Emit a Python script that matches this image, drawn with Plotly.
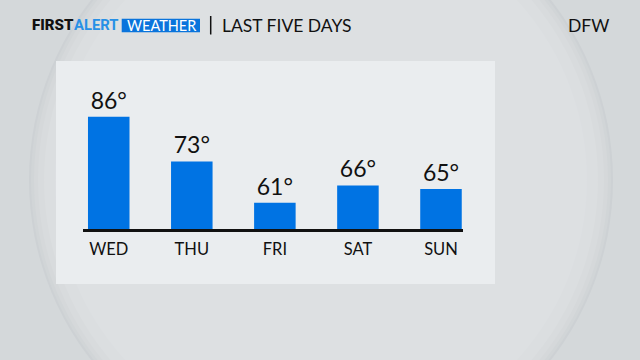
import plotly.graph_objects as go

# ---- data ----
days = ["WED", "THU", "FRI", "SAT", "SUN"]
highs = [86, 73, 61, 66, 65]

W, H = 640, 360


def px(x):
    return x / W


def py(y):
    return (H - y) / H


BLUE = "#0073E3"
TXT = "#111111"
FONT = "Lato"

fig = go.Figure()
fig.add_trace(go.Bar(
    x=days, y=highs, width=0.5,
    marker=dict(color=BLUE, line=dict(width=0)),
    texttemplate="%{y}°", textposition="outside", cliponaxis=False,
    textfont=dict(family=FONT, size=23, color=TXT),
    hoverinfo="skip",
))

shapes = []
# big sphere with a soft darker rim
for r, col in [(292, "#cdd1d4"), (290, "#d1d5d7"), (287, "#d5d8da"),
               (283, "#d8dbdd"), (277, "#dbdee0"), (266, "#dde0e2")]:
    shapes.append(dict(type="circle", xref="paper", yref="paper", layer="below",
                       x0=px(321 - r), x1=px(321 + r), y0=py(180 + r), y1=py(180 - r),
                       fillcolor=col, line=dict(width=0)))
shapes += [
    # panel
    dict(type="rect", xref="paper", yref="paper", layer="below",
         x0=px(56), x1=px(495), y0=py(284), y1=py(61),
         fillcolor="#eaedef", line=dict(width=0)),
    # WEATHER box
    dict(type="rect", xref="paper", yref="paper",
         x0=px(121.7), x1=px(200), y0=py(32.3), y1=py(18.7),
         fillcolor="#0A74DC", line=dict(width=0)),
    # header separator
    dict(type="line", xref="paper", yref="paper",
         x0=px(210.7), x1=px(210.7), y0=py(34.5), y1=py(16),
         line=dict(color=TXT, width=1.5)),
]

annotations = [
    dict(xref="paper", yref="paper", x=px(30), y=py(25.5), xanchor="left", yanchor="middle",
         showarrow=False, text="FIRST",
         font=dict(family="Roboto", size=15, color=TXT, weight=900)),
    dict(xref="paper", yref="paper", x=px(72), y=py(25.5), xanchor="left", yanchor="middle",
         showarrow=False, text="ALERT",
         font=dict(family="Roboto", size=14.8, color="#2790E6", weight=700)),
    dict(xref="paper", yref="paper", x=px(161), y=py(25.5), xanchor="center", yanchor="middle",
         showarrow=False, text="WEATHER",
         font=dict(family="Lato", size=14.5, color="#ffffff")),
    dict(xref="paper", yref="paper", x=px(219.5), y=py(25.5), xanchor="left", yanchor="middle",
         showarrow=False, text="LAST FIVE DAYS",
         font=dict(family=FONT, size=17.5, color=TXT)),
    dict(xref="paper", yref="paper", x=px(611), y=py(25.5), xanchor="right", yanchor="middle",
         showarrow=False, text="DFW",
         font=dict(family=FONT, size=17.5, color=TXT)),
]

fig.update_layout(
    width=W, height=H, margin=dict(l=0, r=0, t=0, b=0),
    paper_bgcolor="#d4d8da", plot_bgcolor="rgba(0,0,0,0)",
    showlegend=False, shapes=shapes, annotations=annotations,
    bargap=0.5,
)
fig.update_xaxes(
    domain=[px(83), px(463)], range=[-0.31, 4.265],
    showline=True, linecolor="#111111", linewidth=3,
    showgrid=False, zeroline=False, ticks="",
    tickfont=dict(family=FONT, size=16.5, color=TXT),
    ticklabelstandoff=3,
)
fig.update_yaxes(
    domain=[py(229), py(61)], range=[53.35, 53.35 + 168 / 3.44],
    visible=False, showgrid=False, zeroline=False,
)

fig.write_html("out.html")
